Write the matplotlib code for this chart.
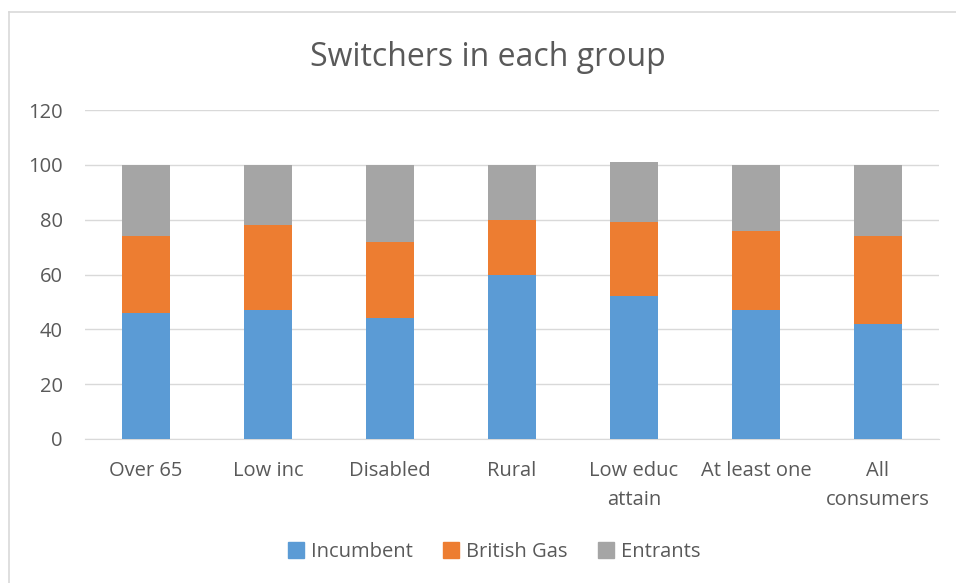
import matplotlib
matplotlib.use("Agg")
import matplotlib.pyplot as plt
from matplotlib.lines import Line2D
import numpy as np

categories = ["Over 65", "Low inc", "Disabled", "Rural", "Low educ\nattain", "At least one", "All\nconsumers"]
incumbent = [46, 47, 44, 60, 52, 47, 42]
british_gas = [28, 31, 28, 20, 27, 29, 32]
entrants = [26, 22, 28, 20, 22, 24, 26]
series_names = ["Incumbent", "British Gas", "Entrants"]
colors = ["#5B9BD5", "#ED7D31", "#A5A5A5"]
yticks = [0, 20, 40, 60, 80, 100, 120]

plt.rcParams['font.family'] = ['Open Sans', 'DejaVu Sans']
txt = "#595959"

fig = plt.figure(figsize=(9.56, 5.83), dpi=100)
ax = fig.add_axes([85/956, 1-439/583, (939-85)/956, (439-110)/583])

x = np.arange(len(categories))
bottom = np.zeros(len(categories))
for name, vals, c in zip(series_names, [incumbent, british_gas, entrants], colors):
    ax.bar(x, vals, 0.4, bottom=bottom, color=c, label=name, zorder=3)
    bottom += np.array(vals)

ax.set_xlim(-0.5, len(categories) - 0.5)
ax.set_ylim(0, 120)
ax.set_yticks(yticks)
ax.set_xticks(x)
ax.set_xticklabels(categories)
ax.tick_params(axis='both', length=0, colors=txt, labelsize=14.5)
ax.tick_params(axis='y', pad=16)
ax.tick_params(axis='x', pad=16)
ax.grid(axis='y', color="#D9D9D9", linewidth=1, zorder=0)
for s in ['top', 'right', 'left']:
    ax.spines[s].set_visible(False)
ax.spines['bottom'].set_color("#D9D9D9")
for lbl in ax.get_xticklabels():
    lbl.set_linespacing(1.6)

fig.text(488/956, 1-57/583, "Switchers in each group", ha='center', va='center',
         fontsize=23, color=txt)

handles = [Line2D([], [], marker='s', linestyle='none', markersize=11, color=c) for c in colors]
fig.legend(handles, series_names, loc='center', bbox_to_anchor=(493/956, 1-552/583),
           ncol=3, frameon=False, fontsize=14.5, labelcolor=txt, handletextpad=0.25,
           columnspacing=1.4, handlelength=1.0)

# chart border (left and top visible)
fig.add_artist(Line2D([8.5/956, 8.5/956], [0, 1-11.5/583], transform=fig.transFigure, color="#D9D9D9", lw=1.2))
fig.add_artist(Line2D([8.5/956, 1], [1-11.5/583, 1-11.5/583], transform=fig.transFigure, color="#D9D9D9", lw=1.2))

fig.savefig("out.png", dpi=100)
